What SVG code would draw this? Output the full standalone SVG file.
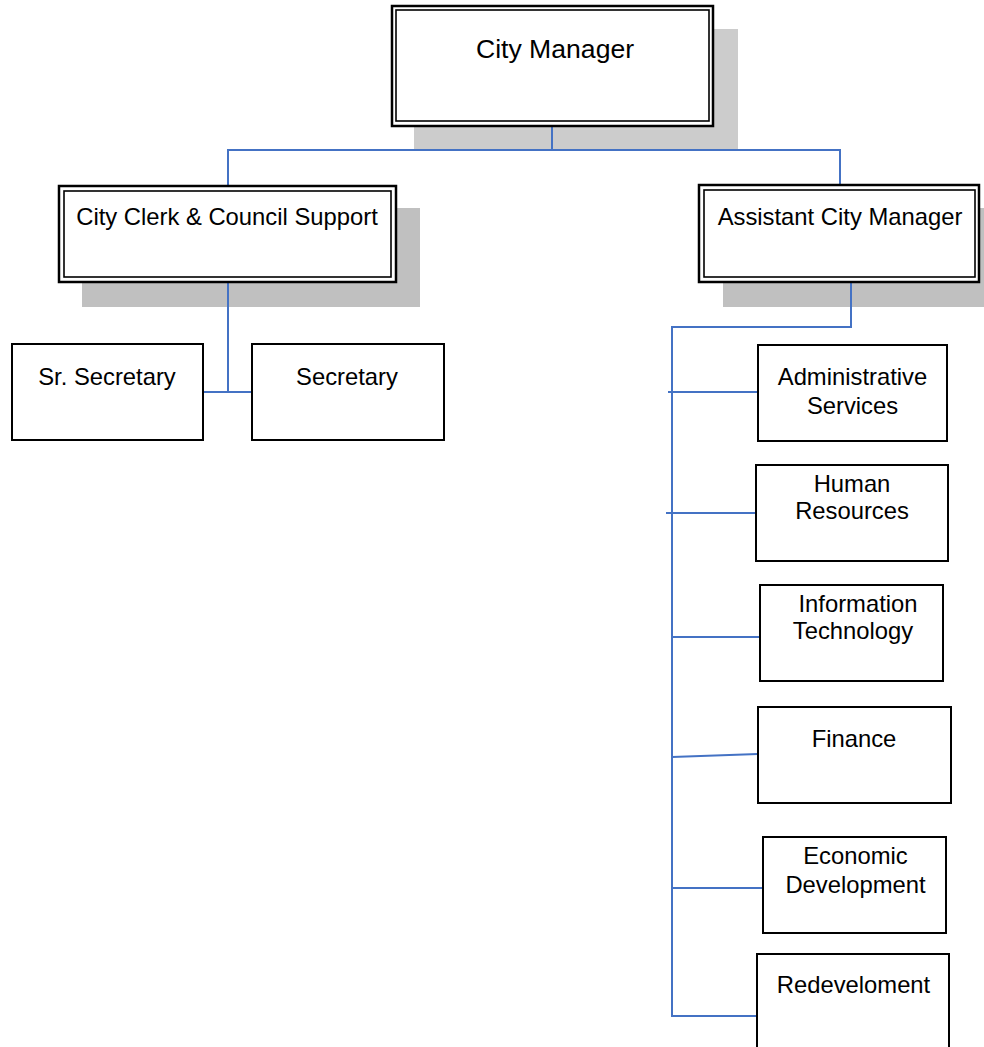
<svg xmlns="http://www.w3.org/2000/svg" width="984" height="1047" viewBox="0 0 984 1047">
  <style>
    .shadow-top { fill: #cccccc; }
    .shadow { fill: #c0c0c0; }
    .frame-outer { fill: #ffffff; stroke: #000000; stroke-width: 2.5; }
    .frame-inner { fill: none; stroke: #000000; stroke-width: 1.6; }
    .box { fill: #ffffff; stroke: #000000; stroke-width: 2; }
    .link { fill: none; stroke: #4472c4; stroke-width: 2; }
    text { font-family: "Liberation Sans", Arial, sans-serif; font-size: 23.8px; fill: #000000; text-anchor: middle; }
    .big { font-size: 26.6px; }
  </style>
  <rect width="984" height="1047" fill="#ffffff"/>

  <!-- drop shadows of the framed boxes -->
  <rect class="shadow-top" x="414" y="29" width="324" height="120"/>
  <rect class="shadow" x="82" y="208" width="338" height="99"/>
  <rect class="shadow" x="723" y="208" width="261" height="99"/>

  <!-- connectors -->
  <g id="connectors">
    <polyline class="link" points="552,126 552,150"/>
    <polyline class="link" points="228,186 228,150 840,150 840,185"/>
    <polyline class="link" points="228,282 228,392"/>
    <polyline class="link" points="203,392 252,392"/>
    <polyline class="link" points="851,282 851,327 672,327 672,1016 757,1016"/>
    <polyline class="link" points="668,392 758,392"/>
    <polyline class="link" points="666,513 756,513"/>
    <polyline class="link" points="672,637 760,637"/>
    <polyline class="link" points="672,757 758,754"/>
    <polyline class="link" points="672,888 763,888"/>
  </g>

  <g id="city-manager">
    <rect class="frame-outer" x="392" y="6" width="321" height="120"/>
    <rect class="frame-inner" x="396" y="10" width="313" height="111"/>
    <text class="big" x="555" y="58">City Manager</text>
  </g>

  <g id="city-clerk">
    <rect class="frame-outer" x="59" y="186" width="337" height="96"/>
    <rect class="frame-inner" x="64" y="191" width="327" height="86"/>
    <text x="227" y="225">City Clerk &amp; Council Support</text>
  </g>

  <g id="assistant-city-manager">
    <rect class="frame-outer" x="699" y="185" width="280" height="97"/>
    <rect class="frame-inner" x="704" y="190" width="271" height="87"/>
    <text x="840" y="225">Assistant City Manager</text>
  </g>

  <g id="sr-secretary">
    <rect class="box" x="12" y="344" width="191" height="96"/>
    <text x="107" y="385">Sr. Secretary</text>
  </g>

  <g id="secretary">
    <rect class="box" x="252" y="344" width="192" height="96"/>
    <text x="347" y="385">Secretary</text>
  </g>

  <g id="administrative-services">
    <rect class="box" x="758" y="345" width="189" height="96"/>
    <text x="852.5" y="385">Administrative</text>
    <text x="852.5" y="414">Services</text>
  </g>

  <g id="human-resources">
    <rect class="box" x="756" y="465" width="192" height="96"/>
    <text x="852" y="492">Human</text>
    <text x="852" y="519">Resources</text>
  </g>

  <g id="information-technology">
    <rect class="box" x="760" y="585" width="183" height="96"/>
    <text x="858" y="612">Information</text>
    <text x="853" y="639">Technology</text>
  </g>

  <g id="finance">
    <rect class="box" x="758" y="707" width="193" height="96"/>
    <text x="854" y="747">Finance</text>
  </g>

  <g id="economic-development">
    <rect class="box" x="763" y="837" width="183" height="96"/>
    <text x="855.5" y="864">Economic</text>
    <text x="855.5" y="893">Development</text>
  </g>

  <g id="redevelopment">
    <rect class="box" x="757" y="954" width="192" height="100"/>
    <text x="853.5" y="993">Redeveloment</text>
  </g>
</svg>
